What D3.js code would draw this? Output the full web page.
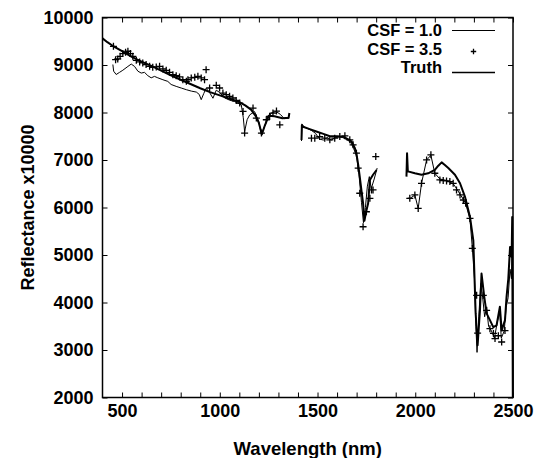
<!DOCTYPE html>
<html>
<head>
<meta charset="utf-8">
<script src="https://cdn.jsdelivr.net/npm/d3@7"></script>
<style>
  body { margin: 0; background: #fff; }
  svg text { font-family: "Liberation Sans", Arial, sans-serif; font-weight: bold; fill: #000; }
</style>
</head>
<body>
<div id="chart"></div>
<script>
// Reflectance spectra: two CSF reconstructions vs. truth (null = water band gap)
const truthWl = [400, 425, 450, 500, 550, 600, 650, 700, 750, 800, 850, 900, 950, 1000, 1050, 1100, 1130, 1160, 1185, 1200, 1215, 1230, 1250, 1280, 1320, 1352, 1356, 1380,
  1418, 1420, 1426, 1460, 1494, 1530, 1563, 1600, 1631, 1660, 1674, 1690, 1699, 1708, 1716, 1725, 1733, 1740, 1748, 1759, 1768, 1784, 1802, 1880,
  1955, 1958, 1962, 1998, 2032, 2066, 2100, 2118, 2135, 2150, 2169, 2203, 2229, 2254, 2280, 2297, 2309, 2319, 2331, 2339, 2353, 2365, 2382, 2399, 2416, 2433, 2442, 2459, 2467, 2476, 2485, 2493, 2496, 2499];
const truthR = [9560, 9480, 9410, 9290, 9170, 9070, 8980, 8880, 8780, 8690, 8600, 8510, 8430, 8360, 8290, 8220, 8150, 8060, 7920, 7780, 7540, 7720, 7930, 7920, 7880, 7890, 7990, null,
  7420, 7730, 7700, 7650, 7600, 7550, 7500, 7500, 7490, 7430, 7390, 7260, 7140, 6900, 6650, 6350, 6090, 5720, 5900, 6090, 6580, 6690, 6790, null,
  6650, 7140, 6760, 6720, 6690, 6720, 6790, 6880, 6950, 6900, 6830, 6690, 6510, 6230, 5800, 5310, 3770, 3100, 3840, 4610, 4120, 3770, 3630, 3480, 3520, 3910, 3410, 3630, 4120, 4500, 5170, 4960, 5800, 2000];

const csf1Wl = [453, 457, 470, 487, 504, 530, 547, 564, 581, 598, 615, 632, 649, 666, 683, 709, 734, 751, 777, 803, 829, 855, 880, 895, 905, 918, 930, 948, 965, 982, 1000, 1024, 1050, 1076, 1110, 1120, 1127, 1140, 1153, 1178, 1200, 1213, 1238, 1263, 1289, 1310, 1330, 1355, 1380,
  1418, 1420, 1430, 1450, 1470, 1490, 1510, 1530, 1550, 1570, 1590, 1610, 1630, 1650, 1670, 1685, 1700, 1712, 1725, 1735, 1745, 1755, 1765, 1775, 1790, 1805, 1880,
  1962, 1972, 1998, 2015, 2032, 2058, 2080, 2100, 2126, 2160, 2194, 2211, 2229, 2246, 2258, 2280, 2292, 2303, 2310, 2316, 2325, 2335, 2345, 2355, 2365, 2375, 2390, 2405, 2420, 2432, 2440, 2455, 2465, 2475, 2485, 2492, 2497, 2500];
const csf1R = [9010, 8870, 8800, 8845, 8890, 8970, 9020, 8970, 8870, 8830, 8845, 8775, 8730, 8760, 8730, 8690, 8655, 8590, 8550, 8515, 8480, 8450, 8430, 8380, 8270, 8400, 8510, 8420, 8300, 8470, 8420, 8310, 8260, 8230, 8160, 7900, 7600, 7850, 7950, 8020, 7800, 7530, 7810, 7990, 8020, 7960, 7870, 7880, null,
  7400, 7760, 7700, 7660, 7620, 7560, 7440, 7420, 7470, 7420, 7470, 7490, 7470, 7430, 7370, 7240, 7080, 6700, 6100, 5680, 6000, 6450, 6650, 6400, 6600, 6830, null,
  6200, 6190, 6260, 5980, 6510, 7000, 7100, 6720, 6600, 6570, 6500, 6400, 6280, 6170, 6080, 5750, 5150, 4500, 3500, 2950, 3700, 4400, 4100, 3700, 3900, 3500, 3400, 3250, 3600, 3800, 3250, 3400, 3900, 4100, 4700, 4500, 5600, 2000];

const csf35Wl = [456, 467, 478, 490, 504, 518, 530, 543, 555, 573, 590, 606, 623, 641, 657, 675, 692, 709, 726, 743, 760, 777, 794, 811, 829, 837, 854, 872, 888, 905, 922, 930, 948, 982, 999, 1016, 1033, 1050, 1067, 1084, 1102, 1119, 1127, 1170, 1187, 1213, 1238, 1255, 1272, 1290, 1307,
  1469, 1486, 1511, 1537, 1563, 1588, 1614, 1640, 1665, 1682, 1699, 1708, 1716, 1733, 1750, 1768, 1776, 1784, 1798,
  1972, 1998, 2015, 2032, 2058, 2080, 2100, 2126, 2143, 2160, 2177, 2194, 2211, 2229, 2246, 2258, 2280, 2292, 2314, 2319, 2348, 2365, 2382, 2400, 2408, 2425, 2442, 2459];
const csf35R = [9394, 9113, 9128, 9183, 9240, 9268, 9289, 9240, 9183, 9099, 9064, 9043, 9008, 8972, 8951, 8959, 8972, 8917, 8888, 8845, 8797, 8776, 8748, 8691, 8656, 8691, 8727, 8741, 8762, 8727, 8691, 8902, 8516, 8572, 8516, 8410, 8375, 8340, 8305, 8255, 8199, 8022, 7566, 8094, 7883, 7566, 7847, 7917, 7988, 8030, 7741,
  7460, 7460, 7494, 7460, 7425, 7460, 7494, 7510, 7425, 7320, 7143, 6827, 6300, 5595, 5911, 6194, 6370, 6370, 7072,
  6194, 6264, 5981, 6510, 7002, 7108, 6721, 6580, 6566, 6559, 6545, 6510, 6370, 6264, 6158, 6088, 5771, 5138, 4152, 3357, 4152, 3836, 3450, 3350, 3240, 3300, 3168, 3410];

const xTicks = [500, 600, 700, 800, 900, 1000, 1100, 1200, 1300, 1400, 1500, 1600, 1700, 1800, 1900, 2000, 2100, 2200, 2300, 2400, 2500];
const yTicks = [2000, 3000, 4000, 5000, 6000, 7000, 8000, 9000, 10000];
const legendLabels = ['CSF = 1.0', 'CSF = 3.5', 'Truth'];

const width = 537, height = 458;
const margin = { top: 17.5, right: 24, bottom: 60.5, left: 102.5 };
const plotW = width - margin.left - margin.right;
const plotH = height - margin.top - margin.bottom;

const svg = d3.select('#chart').append('svg')
  .attr('width', width)
  .attr('height', height);

const x = d3.scaleLinear().domain([400, 2500]).range([margin.left, margin.left + plotW]);
const y = d3.scaleLinear().domain([2000, 10000]).range([margin.top + plotH, margin.top]);

const zip = (wl, r) => wl.map((w, i) => ({ w, r: r[i] }));

const line = d3.line()
  .defined(d => d.r != null)
  .x(d => x(d.w))
  .y(d => y(d.r));

// axes, ticks pointing inward
function styleAxis(g) {
  g.select('.domain').remove();
  g.selectAll('.tick line').attr('stroke', '#000').attr('stroke-width', 1);
  g.selectAll('.tick text').style('font-size', '18px');
}

svg.append('g')
  .attr('transform', `translate(0,${margin.top + plotH})`)
  .call(d3.axisBottom(x).tickValues(xTicks).tickSize(-5).tickPadding(7)
    .tickFormat(d => d % 500 === 0 ? d3.format('d')(d) : ''))
  .call(styleAxis);

svg.append('g')
  .attr('transform', `translate(0,${margin.top})`)
  .call(d3.axisTop(x).tickValues(xTicks).tickSize(-5).tickFormat(''))
  .call(styleAxis);

svg.append('g')
  .attr('transform', `translate(${margin.left},0)`)
  .call(d3.axisLeft(y).tickValues(yTicks).tickSize(-5).tickPadding(9).tickFormat(d3.format('d')))
  .call(styleAxis);

svg.append('g')
  .attr('transform', `translate(${margin.left + plotW},0)`)
  .call(d3.axisRight(y).tickValues(yTicks).tickSize(-5).tickFormat(''))
  .call(styleAxis);

// series
svg.append('path')
  .datum(zip(csf1Wl, csf1R))
  .attr('fill', 'none')
  .attr('stroke', '#000')
  .attr('stroke-width', 1)
  .attr('d', line);

svg.append('path')
  .datum(zip(truthWl, truthR))
  .attr('fill', 'none')
  .attr('stroke', '#000')
  .attr('stroke-width', 2)
  .attr('stroke-linejoin', 'round')
  .attr('d', line);

const plus = (px, py, s) => `M${px - s},${py}H${px + s}M${px},${py - s}V${py + s}`;

svg.append('path')
  .attr('fill', 'none')
  .attr('stroke', '#000')
  .attr('stroke-width', 1.3)
  .attr('d', zip(csf35Wl, csf35R).map(d => plus(x(d.w), y(d.r), 3.5)).join(''));

// frame
svg.append('rect')
  .attr('x', margin.left)
  .attr('y', margin.top)
  .attr('width', plotW)
  .attr('height', plotH)
  .attr('fill', 'none')
  .attr('stroke', '#000')
  .attr('stroke-width', 1.5);

// legend
const legend = svg.append('g').attr('class', 'legend');
const legendY = [36, 54.5, 73];
legend.selectAll('text')
  .data(legendLabels)
  .enter()
  .append('text')
  .attr('x', 442)
  .attr('y', (d, i) => legendY[i])
  .attr('text-anchor', 'end')
  .style('font-size', '16.5px')
  .text(d => d);

legend.append('line')
  .attr('x1', 452).attr('x2', 495).attr('y1', 30.5).attr('y2', 30.5)
  .attr('stroke', '#000').attr('stroke-width', 1);
legend.append('path')
  .attr('d', plus(473.5, 51.5, 2.7))
  .attr('stroke', '#000').attr('stroke-width', 1.3);
legend.append('line')
  .attr('x1', 452).attr('x2', 495).attr('y1', 72.5).attr('y2', 72.5)
  .attr('stroke', '#000').attr('stroke-width', 1.5);

// axis titles
svg.append('text')
  .attr('x', margin.left + plotW / 2)
  .attr('y', 455)
  .attr('text-anchor', 'middle')
  .style('font-size', '18.5px')
  .text('Wavelength (nm)');

svg.append('text')
  .attr('transform', `translate(34,${margin.top + plotH / 2}) rotate(-90)`)
  .attr('text-anchor', 'middle')
  .style('font-size', '18px')
  .text('Reflectance x10000');
</script>
</body>
</html>
